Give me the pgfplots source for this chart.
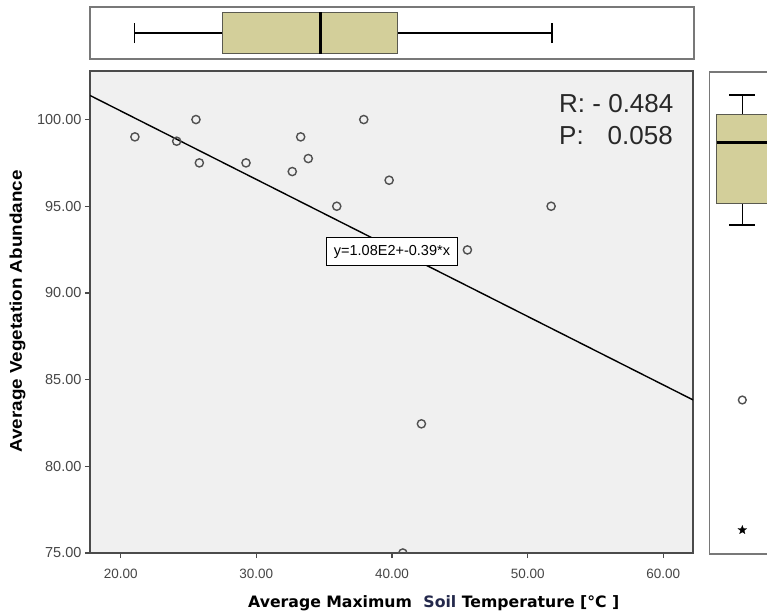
\documentclass[border=0pt]{standalone}
\usepackage{fontspec}
\setmainfont{Liberation Sans}
\newfontfamily\dejavu{DejaVu Sans}
\usepackage{graphicx}
\usepackage{pgfplots}
\pgfplotsset{compat=1.18}
\usepgfplotslibrary{statistics}
\definecolor{boxfill}{RGB}{211,207,154}
\definecolor{boxedge}{RGB}{90,90,80}
\definecolor{bggray}{RGB}{240,240,240}
\definecolor{framegray}{RGB}{75,75,75}
\definecolor{panelgray}{RGB}{120,120,120}
\definecolor{tickgray}{RGB}{70,70,70}
\definecolor{markgray}{RGB}{80,80,80}
\definecolor{rpgray}{RGB}{40,40,40}
\definecolor{soilblue}{RGB}{35,40,75}

\pgfdeclareplotmark{fstar}{%
  \pgfpathmoveto{\pgfpointpolar{90}{\pgfplotmarksize}}%
  \pgfpathlineto{\pgfpointpolar{126}{0.42*\pgfplotmarksize}}%
  \pgfpathlineto{\pgfpointpolar{162}{\pgfplotmarksize}}%
  \pgfpathlineto{\pgfpointpolar{198}{0.42*\pgfplotmarksize}}%
  \pgfpathlineto{\pgfpointpolar{234}{\pgfplotmarksize}}%
  \pgfpathlineto{\pgfpointpolar{270}{0.42*\pgfplotmarksize}}%
  \pgfpathlineto{\pgfpointpolar{306}{\pgfplotmarksize}}%
  \pgfpathlineto{\pgfpointpolar{342}{0.42*\pgfplotmarksize}}%
  \pgfpathlineto{\pgfpointpolar{18}{\pgfplotmarksize}}%
  \pgfpathlineto{\pgfpointpolar{54}{0.42*\pgfplotmarksize}}%
  \pgfpathclose\pgfusepathqfillstroke}

\pgfplotstableread{
x y
21.05 99.00
24.13 98.75
25.55 100.00
25.80 97.50
29.24 97.50
32.65 97.00
33.27 99.00
33.83 97.75
35.93 95.00
37.92 100.00
39.79 96.50
51.73 95.00
45.56 92.48
42.17 82.45
40.80 75.00
}\scatterdata

\begin{document}
\begin{tikzpicture}[x=1pt,y=1pt]
\useasboundingbox (0,0) rectangle (767,614);
\clip (0,0) rectangle (767,614);

% ---------- main scatter ----------
\begin{axis}[
  at={(90pt,61pt)}, anchor=south west, scale only axis,
  width=603pt, height=482pt,
  xmin=17.74, xmax=62.19, ymin=75, ymax=102.8,
  xtick={20,30,...,60}, ytick={75,80,...,100},
  tick align=outside, xtick pos=left, ytick pos=left,
  major tick length=5pt,
  axis line style={framegray, line width=1.4pt},
  tick style={framegray, line width=1.2pt},
  axis background/.style={fill=bggray},
  xticklabel style={font=\fontsize{13.5}{15}\selectfont, text=tickgray, yshift=-8pt},
  yticklabel style={font=\fontsize{14.5}{16}\selectfont, text=tickgray},
  /pgf/number format/.cd, fixed, fixed zerofill, precision=2, assume math mode=true,
  /pgfplots/.cd,
  clip marker paths=true,
]
\addplot[black, line width=1.4pt] coordinates {(17.74,101.39) (62.19,83.83)};
\addplot[only marks, mark=o, mark size=4.1pt, mark options={markgray, line width=1.4pt}] table[x=x,y=y] {\scatterdata};
\node[draw=black, fill=white, line width=0.7pt, inner xsep=2pt, inner ysep=0pt,
      minimum height=28pt, minimum width=131pt,
      font=\fontsize{14.5}{16}\selectfont] at (axis cs:40.0,92.38) {y=1.08E2+-0.39*x};
\end{axis}

% ---------- top boxplot (x variable) ----------
\begin{axis}[
  at={(90pt,555pt)}, anchor=south west, scale only axis,
  width=604pt, height=52pt,
  xmin=17.74, xmax=62.19, ymin=0, ymax=1,
  xtick=\empty, ytick=\empty,
  axis line style={panelgray, line width=1.2pt},
  boxplot/every box/.style={draw=boxedge, fill=boxfill, line width=1pt},
  boxplot/every whisker/.style={black, line width=1.6pt},
  boxplot/every median/.style={black, line width=3pt},
]
\addplot[boxplot prepared={lower whisker=21.0, lower quartile=27.52, median=34.7,
   upper quartile=40.35, upper whisker=51.73, draw direction=x,
   draw position=0.5, box extend=0.79, whisker extend=0.385}] coordinates {};
\end{axis}

% ---------- right boxplot (y variable) ----------
\begin{axis}[
  at={(709.3pt,60pt)}, anchor=south west, scale only axis,
  width=100pt, height=482pt,
  xmin=0, xmax=100, ymin=73.62, ymax=101.32,
  xtick=\empty, ytick=\empty,
  axis line style={panelgray, line width=1.2pt},
  boxplot/every box/.style={draw=boxedge, fill=boxfill, line width=1pt},
  boxplot/every whisker/.style={black, line width=1.6pt},
  boxplot/every median/.style={black, line width=3pt},
  clip=false,
]
\addplot[boxplot prepared={lower whisker=92.53, lower quartile=93.74, median=97.24,
   upper quartile=98.85, upper whisker=100.0, draw direction=y,
   draw position=33, box extend=51.2, whisker extend=26}] coordinates {};
\addplot[only marks, mark=o, mark size=3.9pt, mark options={markgray, line width=1.4pt}] coordinates {(33,82.47)};
\addplot[only marks, mark=fstar, mark size=4.5pt, mark options={black, fill=black, line width=0.3pt}] coordinates {(33,75)};
\end{axis}

% ---------- annotations ----------
\node[anchor=base west, inner sep=0pt, font=\fontsize{26}{28}\selectfont, text=rpgray] at (559,501) {R: - 0.484};
\node[anchor=base west, inner sep=0pt, font=\fontsize{26}{28}\selectfont, text=rpgray] at (559,469) {P:};
\node[anchor=base east, inner sep=0pt, font=\fontsize{26}{28}\selectfont, text=rpgray] at (673,469) {0.058};

\node[anchor=base west, inner sep=0pt, font=\dejavu\bfseries\fontsize{15.7}{18}\selectfont] at (248,7)
  {Average Maximum\hspace{6pt} {\color{soilblue}Soil} Temperature [°C ]};
\node[rotate=90, anchor=center, inner sep=0pt, font=\bfseries\fontsize{17}{19}\selectfont] at (17.5,302.5)
  {\scalebox{1.11}[1]{Average Vegetation Abundance}};
\end{tikzpicture}
\end{document}
